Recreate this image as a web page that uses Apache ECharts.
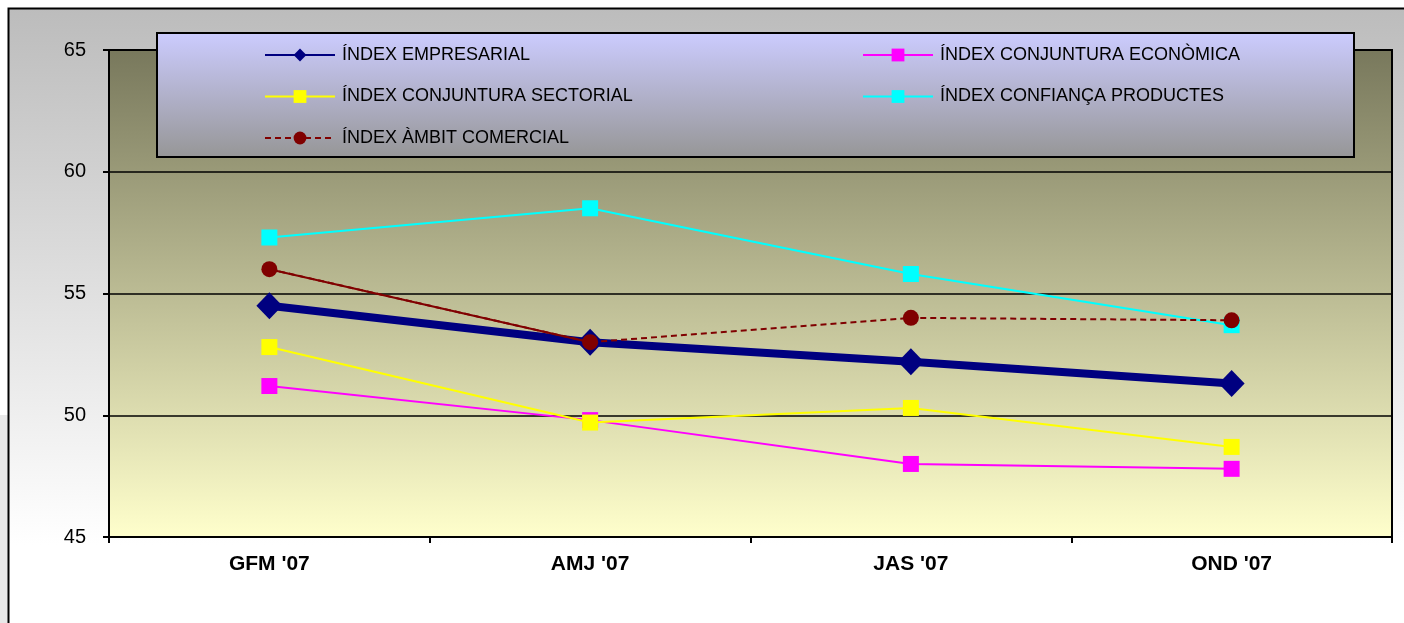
<!DOCTYPE html>
<html>
<head>
<meta charset="utf-8">
<script src="https://cdn.jsdelivr.net/npm/echarts@6/dist/echarts.min.js"></script>
<style>
  html, body { margin: 0; padding: 0; background: #fff; }
  #chart { width: 1404px; height: 623px; }
</style>
</head>
<body>
<div id="chart"></div>
<script>
(function (window, echarts) {
    // categories and values
    var quarters = ["GFM '07", "AMJ '07", "JAS '07", "OND '07"];
    var empresarial = [54.5, 53.0, 52.2, 51.3];
    var economica = [51.2, 49.8, 48.0, 47.8];
    var sectorial = [52.8, 49.7, 50.3, 48.7];
    var confianca = [57.3, 58.5, 55.8, 53.7];
    var comercial = [56.0, 53.0, 54.0, 53.9];
    // first stretch of the comercial line is drawn solid
    var comercialSolid = [56.0, 53.0, '-', '-'];

    var names = {
        emp: 'ÍNDEX EMPRESARIAL',
        eco: 'ÍNDEX CONJUNTURA ECONÒMICA',
        sec: 'ÍNDEX CONJUNTURA SECTORIAL',
        con: 'ÍNDEX CONFIANÇA PRODUCTES',
        com: 'ÍNDEX ÀMBIT COMERCIAL'
    };

    var font = "'Liberation Sans', Arial, sans-serif";

    function lineSeries(name, data, color, width, symbol, size, z) {
        return {
            name: name,
            type: 'line',
            data: data,
            z: z,
            symbol: symbol,
            symbolSize: size,
            showAllSymbol: true,
            lineStyle: { color: color, width: width },
            itemStyle: { color: color },
            emphasis: { disabled: true },
            animation: false
        };
    }

    function legendBlock(left, items) {
        return {
            left: left,
            top: 46,
            orient: 'vertical',
            itemWidth: 70,
            itemHeight: 16,
            itemGap: 23.5,
            padding: 0,
            selectedMode: false,
            lineStyle: { width: 2 },
            textStyle: { fontFamily: font, fontSize: 18, color: '#000', padding: [0, 0, 0, 2] },
            data: items
        };
    }

    var chart = echarts.init(document.getElementById('chart'));

    var comSeries = lineSeries(names.com, comercial, '#800000', 2, 'circle', 16, 7);
    comSeries.lineStyle.type = [6, 4];

    var comSolid = lineSeries('comSolid', comercialSolid, '#800000', 2, 'none', 0, 6);

    chart.setOption({
        backgroundColor: '#fff',
        graphic: [
            {
                type: 'rect', z: -10, silent: true,
                shape: { x: 0, y: 415, width: 8, height: 208 },
                style: { fill: '#e8e8e8' }
            },
            {
                type: 'rect', z: -9, silent: true,
                shape: { x: 8.5, y: 8.5, width: 1410, height: 630 },
                style: {
                    fill: new echarts.graphic.LinearGradient(0, 0, 0, 1, [
                        { offset: 0, color: '#bcbcbc' },
                        { offset: 0.85, color: '#ffffff' },
                        { offset: 1, color: '#ffffff' }
                    ]),
                    stroke: '#000', lineWidth: 2
                }
            },
            {
                type: 'rect', z: 1, silent: true,
                shape: { x: 157, y: 33, width: 1197, height: 124 },
                style: {
                    fill: new echarts.graphic.LinearGradient(0, 0, 0, 1, [
                        { offset: 0, color: '#ccccff' },
                        { offset: 1, color: '#969696' }
                    ]),
                    stroke: '#000', lineWidth: 2
                }
            }
        ],
        legend: [
            legendBlock(264, [names.emp, names.sec, names.com]),
            legendBlock(862, [names.eco, names.con])
        ],
        grid: {
            left: 109, right: 12, top: 50, bottom: 86,
            show: true,
            borderColor: '#000',
            borderWidth: 2,
            backgroundColor: new echarts.graphic.LinearGradient(0, 0, 0, 1, [
                { offset: 0, color: '#78785c' },
                { offset: 1, color: '#ffffcc' }
            ])
        },
        xAxis: {
            type: 'category',
            data: quarters,
            boundaryGap: true,
            axisLine: { lineStyle: { color: '#000', width: 2 } },
            axisTick: { show: true, length: 6, interval: 0, lineStyle: { color: '#000', width: 2 } },
            axisLabel: { fontFamily: font, fontSize: 21, fontWeight: 'bold', color: '#000', margin: 17 },
            splitLine: { show: false }
        },
        yAxis: {
            type: 'value',
            min: 45, max: 65, interval: 5,
            axisLine: { show: true, lineStyle: { color: '#000', width: 2 } },
            axisTick: { show: true, length: 6, lineStyle: { color: '#000', width: 2 } },
            axisLabel: { fontFamily: font, fontSize: 20, color: '#000', margin: 23 },
            splitLine: { show: true, lineStyle: { color: '#000', width: 1.5 } }
        },
        series: [
            lineSeries(names.emp, empresarial, '#000080', 8, 'diamond', [26, 27], 2),
            lineSeries(names.eco, economica, '#ff00ff', 2, 'rect', 16, 3),
            lineSeries(names.sec, sectorial, '#ffff00', 2, 'rect', 16, 4),
            lineSeries(names.con, confianca, '#00ffff', 2, 'rect', 16, 5),
            comSolid,
            comSeries
        ]
    });
})(window, echarts);
</script>
</body>
</html>
